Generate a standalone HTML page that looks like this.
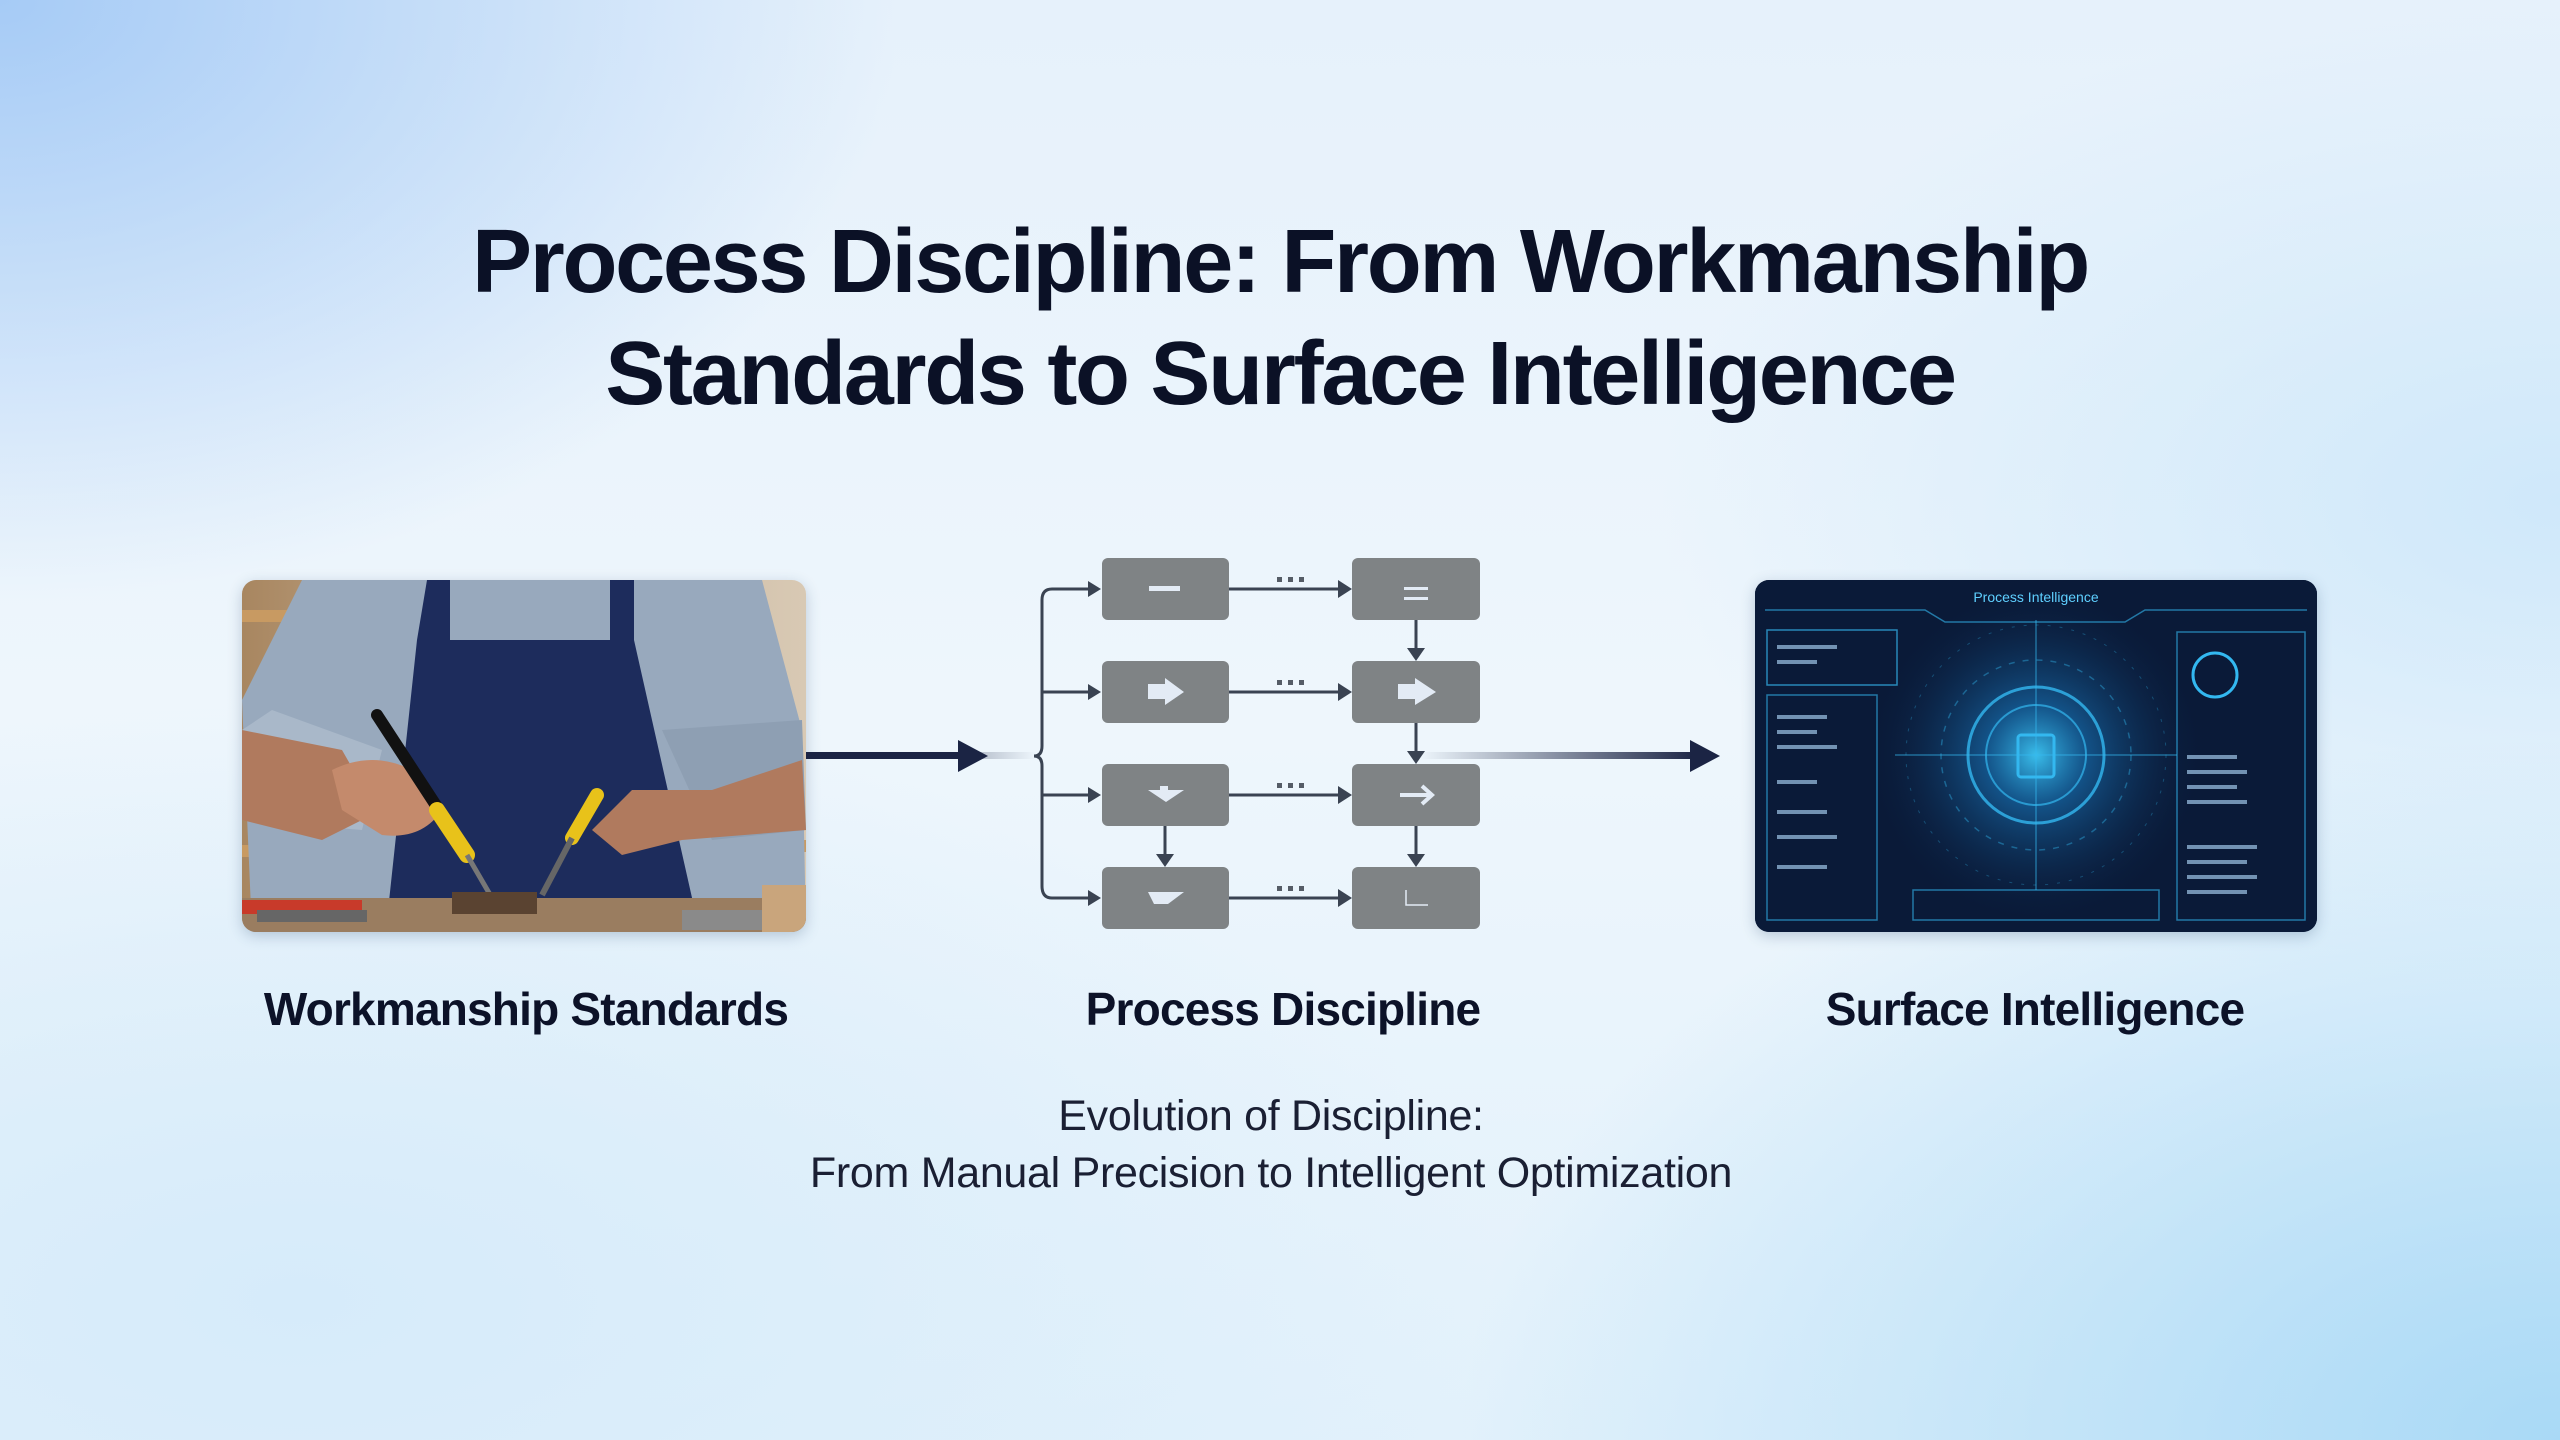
<!DOCTYPE html>
<html><head><meta charset="utf-8"><style>
html,body{margin:0;padding:0}
body{width:2560px;height:1440px;position:relative;overflow:hidden;font-family:"Liberation Sans",sans-serif;
background:
radial-gradient(ellipse 900px 600px at 0px 0px,#a6cbf6 0%,rgba(166,203,246,0) 100%),
radial-gradient(ellipse 1100px 700px at 2560px 1440px,#a9d9f6 0%,rgba(169,217,246,0) 100%),
radial-gradient(ellipse 900px 500px at 2560px 500px,#cfe8fa 0%,rgba(207,232,250,0) 100%),
radial-gradient(ellipse 1200px 600px at 300px 1300px,#d6ebfa 0%,rgba(214,235,250,0) 100%),
linear-gradient(180deg,#e6f1fb 0%,#eef6fc 50%,#e2f1fb 100%);}
h1{position:absolute;left:0;width:2560px;margin:0;text-align:center;font-size:90px;font-weight:bold;color:#0b1126;letter-spacing:-2.3px;line-height:112px;top:206px}
.lbl{position:absolute;font-size:46px;font-weight:bold;color:#0c1228;text-align:center;width:800px;top:982px;letter-spacing:-0.8px}
.sub{position:absolute;left:0;width:2542px;text-align:center;font-size:43px;color:#1a1f33;line-height:57px;top:1088px;letter-spacing:-0.3px}
.card{position:absolute;border-radius:14px;overflow:hidden;box-shadow:0 4px 14px rgba(40,70,110,.25)}
</style></head><body>
<h1>Process Discipline: From Workmanship<br>Standards to Surface Intelligence</h1>

<div class="card" style="left:242px;top:580px;width:564px;height:352px">
<svg width="564" height="352" viewBox="0 0 564 352">
<defs><linearGradient id="bg1" x1="0" x2="1"><stop offset="0" stop-color="#a88660"/><stop offset=".5" stop-color="#cbb59a"/><stop offset="1" stop-color="#d8c9b4"/></linearGradient></defs>
<rect width="564" height="352" fill="url(#bg1)"/>
<rect x="0" y="30" width="80" height="12" fill="#c89a62"/>
<rect x="0" y="265" width="80" height="12" fill="#c89a62"/>
<rect x="480" y="260" width="84" height="12" fill="#c89a62"/>
<path d="M10 352 L0 120 L60 0 L520 0 L560 150 L564 352Z" fill="#98a9bd"/>
<path d="M30 130 L0 150 L0 240 L120 250 L140 170Z" fill="#a9b8c9"/>
<path d="M420 150 L560 140 L564 250 L470 260Z" fill="#8e9fb3"/>
<path d="M185 0 L208 0 L208 60 L368 60 L368 0 L392 0 L392 60 L455 340 L145 340 L175 60Z" fill="#1d2c5c"/>
<path d="M0 150 L100 170 L140 240 L160 220 L80 260 L0 240Z" fill="#b07a5e"/>
<path d="M90 190 Q130 170 170 190 L200 230 Q180 260 140 255 L100 230Z" fill="#c48a6c"/>
<path d="M560 180 L470 210 L390 210 L350 250 L380 275 L440 260 L564 250Z" fill="#b07a5e"/>
<path d="M135 135 L210 250" stroke="#111" stroke-width="12" stroke-linecap="round"/>
<path d="M195 230 L225 275" stroke="#e8c21a" stroke-width="16" stroke-linecap="round"/>
<path d="M225 275 L250 318" stroke="#777" stroke-width="5"/>
<path d="M355 215 L330 258" stroke="#e8c21a" stroke-width="14" stroke-linecap="round"/>
<path d="M330 258 L300 315" stroke="#666" stroke-width="6"/>
<rect x="0" y="318" width="564" height="34" fill="#9a7d60"/>
<rect x="210" y="312" width="85" height="22" fill="#5a4331"/>
<rect x="0" y="320" width="120" height="14" fill="#c83a2a"/>
<rect x="15" y="330" width="110" height="12" fill="#666"/>
<rect x="440" y="330" width="90" height="20" fill="#8a8a8a"/>
<rect x="520" y="305" width="44" height="47" fill="#c9a57c"/>
</svg></div>

<div class="card" style="left:1755px;top:580px;width:562px;height:352px;background:#0b1b3a">
<svg width="562" height="352" viewBox="0 0 562 352">
<defs><radialGradient id="gl"><stop offset="0" stop-color="#3fd0ff" stop-opacity=".9"/><stop offset=".3" stop-color="#1a80c8" stop-opacity=".55"/><stop offset="1" stop-color="#0b1b3a" stop-opacity="0"/></radialGradient></defs>
<rect width="562" height="352" fill="#0a1a38"/>
<circle cx="281" cy="175" r="170" fill="url(#gl)"/>
<g fill="none" stroke="#33b8f0">
<circle cx="281" cy="175" r="68" stroke-width="3" opacity=".8"/>
<circle cx="281" cy="175" r="50" stroke-width="2" opacity=".7"/>
<circle cx="281" cy="175" r="95" stroke-width="1.5" opacity=".4" stroke-dasharray="6 8"/>
<circle cx="281" cy="175" r="130" stroke-width="1" opacity=".3" stroke-dasharray="3 9"/>
<rect x="263" y="155" width="36" height="42" stroke-width="3" rx="3"/>
<path d="M140 175 H422 M281 40 V310" stroke-width="1.5" opacity=".5"/>
<path d="M10 30 H170 L190 42 H370 L390 30 H552" stroke-width="1.5" opacity=".6"/>
<rect x="12" y="50" width="130" height="55" stroke-width="1.5" opacity=".7"/>
<rect x="12" y="115" width="110" height="225" stroke-width="1.5" opacity=".6"/>
<rect x="422" y="52" width="128" height="288" stroke-width="1.5" opacity=".6"/>
<rect x="158" y="310" width="246" height="30" stroke-width="1.5" opacity=".6"/>
<circle cx="460" cy="95" r="22" stroke-width="3"/>
</g>
<text x="281" y="22" fill="#5fd0ff" font-size="14" text-anchor="middle" font-family="Liberation Sans">Process Intelligence</text>
<g fill="#9fc6e8" opacity=".7">
<rect x="22" y="65" width="60" height="4"/><rect x="22" y="80" width="40" height="4"/>
<rect x="22" y="135" width="50" height="4"/><rect x="22" y="150" width="40" height="4"/><rect x="22" y="165" width="60" height="4"/>
<rect x="22" y="200" width="40" height="4"/><rect x="22" y="230" width="50" height="4"/><rect x="22" y="255" width="60" height="4"/><rect x="22" y="285" width="50" height="4"/>
<rect x="432" y="175" width="50" height="4"/><rect x="432" y="190" width="60" height="4"/><rect x="432" y="205" width="50" height="4"/><rect x="432" y="220" width="60" height="4"/>
<rect x="432" y="265" width="70" height="4"/><rect x="432" y="280" width="60" height="4"/><rect x="432" y="295" width="70" height="4"/><rect x="432" y="310" width="60" height="4"/>
</g>
</svg></div>

<svg style="position:absolute;left:0;top:0" width="2560" height="1440">
<defs>
<linearGradient id="la" x1="966" x2="1036" gradientUnits="userSpaceOnUse"><stop offset="0" stop-color="#1b2444"/><stop offset="1" stop-color="#1b2444" stop-opacity="0"/></linearGradient>
<linearGradient id="ra" x1="1420" x2="1700" gradientUnits="userSpaceOnUse"><stop offset="0" stop-color="#1b2444" stop-opacity="0"/><stop offset="1" stop-color="#1b2444"/></linearGradient>
</defs>
<rect x="806" y="752" width="160" height="7" fill="#1b2444"/>
<rect x="966" y="752" width="70" height="7" fill="url(#la)" opacity=".3"/>
<path d="M958 740 L988 756 L958 772Z" fill="#1b2444"/>
<rect x="1420" y="752" width="272" height="7" fill="url(#ra)"/>
<path d="M1690 740 L1720 756 L1690 772Z" fill="#1b2444"/>
<g stroke="#3a4352" stroke-width="3" fill="none">
<path d="M1092 589 H1052 Q1042 589 1042 600 V746 Q1042 756 1034 756 Q1042 756 1042 766 V886 Q1042 898 1052 898 H1092" />
<path d="M1042 692 H1092 M1042 795 H1092"/>
</g>
<g fill="#3a4352">
<path d="M1088 581 L1101 589 L1088 597Z"/><path d="M1088 684 L1101 692 L1088 700Z"/>
<path d="M1088 787 L1101 795 L1088 803Z"/><path d="M1088 890 L1101 898 L1088 906Z"/>
</g>
<g stroke="#3a4352" stroke-width="3" fill="none">
<path d="M1229 589 H1340 M1229 692 H1340 M1229 795 H1340 M1229 898 H1340"/>
<path d="M1416 620 V650 M1416 723 V753 M1416 826 V856 M1165 826 V856"/>
</g>
<g fill="#3a4352">
<path d="M1338 580 L1352 589 L1338 598Z"/><path d="M1338 683 L1352 692 L1338 701Z"/>
<path d="M1338 786 L1352 795 L1338 804Z"/><path d="M1338 889 L1352 898 L1338 907Z"/>
<path d="M1407 648 L1416 661 L1425 648Z"/><path d="M1407 751 L1416 764 L1425 751Z"/>
<path d="M1407 854 L1416 867 L1425 854Z"/><path d="M1156 854 L1165 867 L1174 854Z"/>
</g>
<g fill="#555c66">
<rect x="1277" y="577" width="5" height="5"/><rect x="1288" y="577" width="5" height="5"/><rect x="1299" y="577" width="5" height="5"/>
<rect x="1277" y="680" width="5" height="5"/><rect x="1288" y="680" width="5" height="5"/><rect x="1299" y="680" width="5" height="5"/>
<rect x="1277" y="783" width="5" height="5"/><rect x="1288" y="783" width="5" height="5"/><rect x="1299" y="783" width="5" height="5"/>
<rect x="1277" y="886" width="5" height="5"/><rect x="1288" y="886" width="5" height="5"/><rect x="1299" y="886" width="5" height="5"/>
</g>
<g fill="#7f8385">
<rect x="1102" y="558" width="127" height="62" rx="6"/><rect x="1352" y="558" width="128" height="62" rx="6"/>
<rect x="1102" y="661" width="127" height="62" rx="6"/><rect x="1352" y="661" width="128" height="62" rx="6"/>
<rect x="1102" y="764" width="127" height="62" rx="6"/><rect x="1352" y="764" width="128" height="62" rx="6"/>
<rect x="1102" y="867" width="127" height="62" rx="6"/><rect x="1352" y="867" width="128" height="62" rx="6"/>
</g>
<g fill="#e3ebf5">
<rect x="1149" y="586" width="31" height="5"/>
<path d="M1148 684 H1165 V678 L1184 692 L1165 705 V699 H1148Z"/>
<path d="M1398 684 H1415 V678 L1436 692 L1415 705 V699 H1398Z"/>
<path d="M1148 790 H1160 V786 H1168 V790 H1184 L1166 802Z"/>
<path d="M1148 892 H1184 L1168 904 H1154Z"/>
<rect x="1404" y="587" width="24" height="3"/><rect x="1404" y="597" width="24" height="3"/>
</g>
<path d="M1400 795 H1432 M1422 786 L1432 795 L1422 804" stroke="#e3ebf5" stroke-width="4" fill="none"/>
<path d="M1406 890 V905 H1428" stroke="#e3ebf5" stroke-width="1.5" fill="none"/>
</svg>

<div class="lbl" style="left:126px">Workmanship Standards</div>
<div class="lbl" style="left:883px">Process Discipline</div>
<div class="lbl" style="left:1635px">Surface Intelligence</div>
<div class="sub">Evolution of Discipline:<br>From Manual Precision to Intelligent Optimization</div>
</body></html>
